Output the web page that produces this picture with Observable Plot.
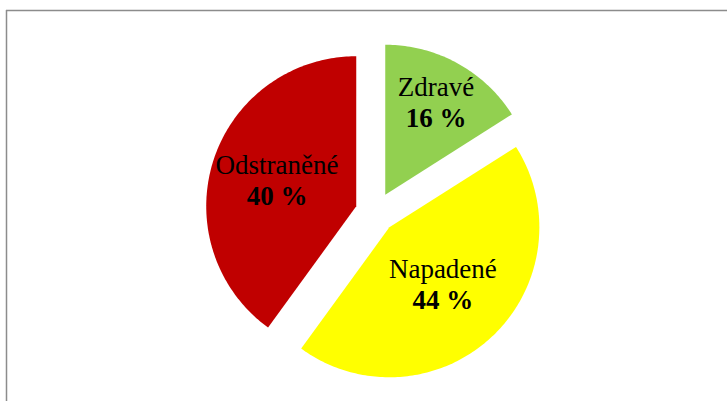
<!DOCTYPE html>
<html><head><meta charset="utf-8">
<script src="https://cdn.jsdelivr.net/npm/d3@7"></script>
<script src="https://cdn.jsdelivr.net/npm/@observablehq/plot@0.6"></script>
<style>html,body{margin:0;padding:0;background:#fff;}</style>
</head><body><div id="chart"></div>
<script>
// Data
const categories = ["Zdravé", "Napadené", "Odstraněné"];
const values = [16, 44, 40];
const percentLabels = ["16 %", "44 %", "40 %"];
const colors = ["#92d050", "#ffff00", "#c00000"];

// Layout (in radius units)
const explode = 0.135;

const slices = d3.pie().sort(null).value(d => d.value)(
  categories.map((c, i) => ({cat: c, value: values[i], label: percentLabels[i]}))
);

const points = [];
const labels = [];
for (const s of slices) {
  const mid = (s.startAngle + s.endAngle) / 2;
  const ox = explode * Math.sin(mid), oy = explode * Math.cos(mid);
  points.push({cat: s.data.cat, x: ox, y: oy});
  const n = Math.max(8, Math.ceil((s.endAngle - s.startAngle) * 60));
  for (let k = 0; k <= n; k++) {
    const a = s.startAngle + (s.endAngle - s.startAngle) * k / n;
    points.push({cat: s.data.cat, x: ox + Math.sin(a), y: oy + Math.cos(a)});
  }
  points.push({cat: s.data.cat, x: ox, y: oy});
  const th = s.endAngle - s.startAngle;
  const rc = 1.1 * 4 * Math.sin(th / 2) / (3 * th);
  labels.push({cat: s.data.cat, label: s.data.label, x: ox + rc * Math.sin(mid), y: oy + rc * Math.cos(mid)});
}

const xMin = -2.46, xMax = 2.3467, yMin = -1.26, yMax = 1.3467;
const font = "'Liberation Serif', 'Times New Roman', serif";

const chart = Plot.plot({
  width: 727,
  height: 401,
  marginLeft: 6, marginTop: 10, marginRight: 0, marginBottom: 0,
  x: {domain: [xMin, xMax], axis: null},
  y: {domain: [yMin, yMax], axis: null},
  color: {domain: categories, range: colors},
  style: {background: "#fff", fontFamily: font},
  marks: [
    Plot.line(points, {x: "x", y: "y", z: "cat", fill: "cat", stroke: "none", curve: "linear"}),
    Plot.text(labels, {x: "x", y: "y", text: "cat", dy: -15, fontSize: 27, fontFamily: font, fill: "black"}),
    Plot.text(labels, {x: "x", y: "y", text: "label", dy: 16, fontSize: 27, fontWeight: "bold", fontFamily: font, fill: "black"}),
    Plot.ruleX([xMin], {stroke: "#8c8c8c", strokeWidth: 1.5}),
    Plot.ruleY([yMax], {stroke: "#8c8c8c", strokeWidth: 1.5})
  ]
});
document.getElementById("chart").appendChild(chart);
</script>
</body></html>
